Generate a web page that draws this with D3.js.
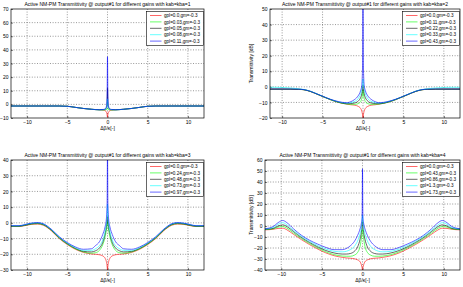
<!DOCTYPE html>
<html><head><meta charset="utf-8">
<script src="https://cdn.jsdelivr.net/npm/d3@7"></script>
<style>body{margin:0;background:#fff}svg{display:block}text{font-family:"Liberation Sans",Arial,sans-serif;fill:#000}</style>
</head><body><svg id="c" width="463" height="287"></svg>
<script>
// ---------- data ----------
const xTicks = [-10, -5, 0, 5, 10];
const yTicks1 = [-10, 0, 10, 20, 30, 40, 50, 60, 70];
const yTicks2 = [-20, -10, 0, 10, 20, 30, 40, 50];
const yTicks3 = [-30, -20, -10, 0, 10, 20, 30, 40];
const yTicks4 = [-40, -30, -20, -10, 0, 10, 20, 30, 40, 50, 60];
const kValues = [1, 2, 3, 4];
const gains1 = ["0.0", "0.03", "0.05", "0.08", "0.11"];
const gains2 = ["0.0", "0.11", "0.22", "0.33", "0.43"];
const gains3 = ["0.0", "0.24", "0.48", "0.73", "0.97"];
const gains4 = ["0.0", "0.43", "0.86", "1.3", "1.73"];
const gm = "-0.3";
const seriesColors = ["#ff0000", "#00ff00", "#000000", "#00ffff", "#0000ff"];

// panel 1 (kab=kba=1)
const X1 = [-12,-10,-8,-6,-5,-4,-3,-2,-1,-0.5,-0.25,-0.12,-0.05,0,0.05,0.12,0.25,0.5,1,2,3,4,5,6,8,10,12];
const red1   = [-1.2,-1.2,-1.2,-1.2,-1.4,-2.2,-3.0,-3.6,-4.0,-4.3,-4.8,-5.8,-7.5,-9.5,-7.5,-5.8,-4.8,-4.3,-4.0,-3.6,-3.0,-2.2,-1.4,-1.2,-1.2,-1.2,-1.2];
const green1 = [-1.2,-1.2,-1.2,-1.2,-1.4,-2.2,-3.0,-3.6,-4.0,-4.1,-4.0,-3.8,-3.5,-3.0,-3.5,-3.8,-4.0,-4.1,-4.0,-3.6,-3.0,-2.2,-1.4,-1.2,-1.2,-1.2,-1.2];
const black1 = [-1.2,-1.2,-1.2,-1.2,-1.4,-2.2,-3.0,-3.6,-4.0,-3.9,-3.6,-2.5,0,12,0,-2.5,-3.6,-3.9,-4.0,-3.6,-3.0,-2.2,-1.4,-1.2,-1.2,-1.2,-1.2];
const cyan1  = [-1.2,-1.2,-1.2,-1.2,-1.4,-2.2,-3.0,-3.6,-4.0,-3.9,-3.5,-2.5,-0.5,4,-0.5,-2.5,-3.5,-3.9,-4.0,-3.6,-3.0,-2.2,-1.4,-1.2,-1.2,-1.2,-1.2];
const blue1  = [-1.2,-1.2,-1.2,-1.2,-1.4,-2.2,-3.0,-3.6,-3.9,-3.7,-3.0,-1.0,6,35,6,-1.0,-3.0,-3.7,-3.9,-3.6,-3.0,-2.2,-1.4,-1.2,-1.2,-1.2,-1.2];

// panel 2 (kab=kba=2)
const X2 = [-12,-11,-10,-9,-8,-7.3,-6.5,-6,-5,-4,-3,-2,-1.5,-1,-0.6,-0.3,-0.15,-0.05,0,0.05,0.15,0.3,0.6,1,1.5,2,3,4,5,6,6.5,7.3,8,9,10,11,12];
const red2   = [-1.5,-1.5,-1.5,-1.5,-1.6,-1.9,-3.0,-4.0,-6.2,-8.3,-10.0,-11.1,-11.5,-11.8,-12.5,-13.8,-15.5,-18,-20,-18,-15.5,-13.8,-12.5,-11.8,-11.5,-11.1,-10.0,-8.3,-6.2,-4.0,-3.0,-1.9,-1.6,-1.5,-1.5,-1.5,-1.5];
const green2 = [-1.5,-1.5,-1.5,-1.5,-1.6,-1.9,-3.0,-4.0,-6.2,-8.3,-10.0,-11.0,-11.2,-11.2,-10.8,-9.5,-7.5,-4.5,-2,-4.5,-7.5,-9.5,-10.8,-11.2,-11.2,-11.0,-10.0,-8.3,-6.2,-4.0,-3.0,-1.9,-1.6,-1.5,-1.5,-1.5,-1.5];
const black2 = [-1.4,-1.4,-1.4,-1.4,-1.5,-1.8,-2.9,-3.9,-6.1,-8.2,-9.9,-10.8,-10.7,-10.3,-9.2,-7.0,-4.5,-1.0,1,-1.0,-4.5,-7.0,-9.2,-10.3,-10.7,-10.8,-9.9,-8.2,-6.1,-3.9,-2.9,-1.8,-1.5,-1.4,-1.4,-1.4,-1.4];
const cyan2  = [-0.3,-0.3,-0.4,-0.7,-1.2,-1.7,-2.8,-3.8,-6.0,-8.1,-9.7,-10.5,-10.2,-9.3,-7.6,-4.5,-1.5,2,5,2,-1.5,-4.5,-7.6,-9.3,-10.2,-10.5,-9.7,-8.1,-6.0,-3.8,-2.8,-1.7,-1.2,-0.7,-0.4,-0.3,-0.3];
const blue2  = [-1.4,-1.4,-1.4,-1.4,-1.5,-1.8,-2.9,-3.9,-6.0,-8.0,-9.5,-10.2,-9.5,-8.0,-5.8,-2.5,1,14,60,14,1,-2.5,-5.8,-8.0,-9.5,-10.2,-9.5,-8.0,-6.0,-3.9,-2.9,-1.8,-1.5,-1.4,-1.4,-1.4,-1.4];

// panel 3 (kab=kba=3)
const X3 = [-12,-11,-10.3,-9.5,-8.7,-8,-7,-6,-5,-4,-3,-2,-1.5,-1,-0.6,-0.3,-0.15,-0.05,0,0.05,0.15,0.3,0.6,1,1.5,2,3,4,5,6,7,8,8.7,9.5,10.3,11,12];
const red3   = [-2.3,-2.3,-1.8,-1.0,-0.8,-1.5,-5.0,-10.0,-13.8,-16.8,-18.8,-19.8,-20.0,-20.3,-21.0,-22.5,-24.5,-27.5,-30,-27.5,-24.5,-22.5,-21.0,-20.3,-20.0,-19.8,-18.8,-16.8,-13.8,-10.0,-5.0,-1.5,-0.8,-1.0,-1.8,-2.3,-2.3];
const green3 = [-2.2,-2.2,-1.6,-0.8,-0.5,-1.2,-4.7,-9.7,-13.5,-16.5,-18.5,-19.3,-19.0,-17.5,-14.0,-9.0,-5.0,-1.0,1,-1.0,-5.0,-9.0,-14.0,-17.5,-19.0,-19.3,-18.5,-16.5,-13.5,-9.7,-4.7,-1.2,-0.5,-0.8,-1.6,-2.2,-2.2];
const black3 = [-2.1,-2.1,-1.5,-0.6,-0.3,-1.0,-4.5,-9.4,-13.2,-16.2,-18.1,-18.5,-17.8,-16.0,-12.5,-7.0,-3.0,1.0,4,1.0,-3.0,-7.0,-12.5,-16.0,-17.8,-18.5,-18.1,-16.2,-13.2,-9.4,-4.5,-1.0,-0.3,-0.6,-1.5,-2.1,-2.1];
const cyan3  = [-1.9,-1.9,-1.2,-0.3,0,-0.7,-4.2,-9.1,-12.9,-15.8,-17.5,-17.5,-16.5,-14.5,-11.0,-5.5,-1.0,4.0,12,4.0,-1.0,-5.5,-11.0,-14.5,-16.5,-17.5,-17.5,-15.8,-12.9,-9.1,-4.2,-0.7,0,-0.3,-1.2,-1.9,-1.9];
const blue3  = [-1.8,-1.8,-1.1,-0.2,0.2,-0.5,-4.0,-8.8,-12.5,-15.3,-16.8,-16.5,-14.5,-12.0,-7.5,-2.5,2.0,12,45,12,2.0,-2.5,-7.5,-12.0,-14.5,-16.5,-16.8,-15.3,-12.5,-8.8,-4.0,-0.5,0.2,-0.2,-1.1,-1.8,-1.8];

// panel 4 (kab=kba=4)
const X4 = [-12,-11,-10.4,-9.8,-9.3,-8.5,-7.5,-6.5,-5.5,-4.5,-3.5,-2.5,-2,-1.5,-1,-0.6,-0.3,-0.15,-0.05,0,0.05,0.15,0.3,0.6,1,1.5,2,2.5,3.5,4.5,5.5,6.5,7.5,8.5,9.3,9.8,10.4,11,12];
const red4   = [-3.5,-3.0,-2.2,-2.0,-3.5,-7.5,-12.5,-17.0,-21.0,-24.5,-27.0,-28.5,-29.0,-29.3,-29.8,-30.8,-32.5,-35.0,-38.0,-40,-38.0,-35.0,-32.5,-30.8,-29.8,-29.3,-29.0,-28.5,-27.0,-24.5,-21.0,-17.0,-12.5,-7.5,-3.5,-2.0,-2.2,-3.0,-3.5];
const green4 = [-3.2,-2.6,-1.0,-0.5,-2.0,-6.3,-11.5,-16.0,-20.0,-23.5,-26.0,-27.3,-27.5,-27.5,-26.5,-24.0,-18.5,-12.0,-6.0,-3,-6.0,-12.0,-18.5,-24.0,-26.5,-27.5,-27.5,-27.3,-26.0,-23.5,-20.0,-16.0,-11.5,-6.3,-2.0,-0.5,-1.0,-2.6,-3.2];
const black4 = [-3.0,-2.2,0,1.0,-0.5,-5.0,-10.5,-15.0,-19.0,-22.3,-24.5,-25.5,-25.5,-25.0,-23.0,-19.0,-12.0,-6.0,0,4,0,-6.0,-12.0,-19.0,-23.0,-25.0,-25.5,-25.5,-24.5,-22.3,-19.0,-15.0,-10.5,-5.0,-0.5,1.0,0,-2.2,-3.0];
const cyan4  = [-2.8,-1.5,1.5,3.0,1.0,-4.0,-9.5,-14.0,-17.8,-21.0,-23.0,-23.5,-23.0,-21.5,-18.5,-13.5,-7.0,-2.0,4.0,10,4.0,-2.0,-7.0,-13.5,-18.5,-21.5,-23.0,-23.5,-23.0,-21.0,-17.8,-14.0,-9.5,-4.0,1.0,3.0,1.5,-1.5,-2.8];
const blue4  = [-2.5,-0.5,3.0,5.0,3.0,-2.5,-8.5,-13.0,-16.5,-19.5,-21.5,-21.5,-20.5,-18.0,-14.0,-8.5,-2.5,2.0,8.0,52,8.0,2.0,-2.5,-8.5,-14.0,-18.0,-20.5,-21.5,-21.5,-19.5,-16.5,-13.0,-8.5,-2.5,3.0,5.0,3.0,-0.5,-2.5];

// ---------- layout ----------
const panels = [
  {x: X1, ys: [red1, green1, black1, cyan1, blue1], gains: gains1, k: kValues[0], yTicks: yTicks1,
   box: [11, 204, 9, 118], xd: [-12, 12], ylabX: -1.2},
  {x: X2, ys: [red2, green2, black2, cyan2, blue2], gains: gains2, k: kValues[1], yTicks: yTicks2,
   box: [270, 460, 9, 118], xd: [-11.5, 12], ylabX: 253},
  {x: X3, ys: [red3, green3, black3, cyan3, blue3], gains: gains3, k: kValues[2], yTicks: yTicks3,
   box: [11, 204, 160, 270], xd: [-12, 12], ylabX: -1.2},
  {x: X4, ys: [red4, green4, black4, cyan4, blue4], gains: gains4, k: kValues[3], yTicks: yTicks4,
   box: [265, 460, 160, 270], xd: [-12, 12], ylabX: 253},
];

const svg = d3.select("#c");
const FS = 5;

panels.forEach((p, pi) => {
  const [x0, x1, y0, y1] = p.box;
  const yd = d3.extent(p.yTicks);
  const xs = d3.scaleLinear().domain(p.xd).range([x0, x1]);
  const ys = d3.scaleLinear().domain(yd).range([y1, y0]);
  const g = svg.append("g");

  g.append("rect").attr("x", x0).attr("y", y0).attr("width", x1 - x0).attr("height", y1 - y0)
    .attr("fill", "#fff");

  // grid
  const grid = g.append("g").attr("stroke", "#000").attr("stroke-width", 0.5)
    .attr("stroke-dasharray", "1,1.6").attr("opacity", 0.8);
  xTicks.forEach(t => grid.append("line").attr("x1", xs(t)).attr("x2", xs(t)).attr("y1", y0).attr("y2", y1));
  p.yTicks.slice(1, -1).forEach(t => grid.append("line").attr("x1", x0).attr("x2", x1).attr("y1", ys(t)).attr("y2", ys(t)));

  // axes (library axes, inward ticks)
  const ax = g.append("g").attr("transform", `translate(0,${y1})`)
    .call(d3.axisBottom(xs).tickValues(xTicks).tickSize(-2).tickPadding(2).tickFormat(d3.format("d")));
  const ay = g.append("g").attr("transform", `translate(${x0},0)`)
    .call(d3.axisLeft(ys).tickValues(p.yTicks).tickSize(-2).tickPadding(2.5).tickFormat(d3.format("d")));
  [ax, ay].forEach(a => {
    a.select(".domain").remove();
    a.selectAll("line").attr("stroke", "#000").attr("stroke-width", 0.5);
    a.selectAll("text").attr("font-size", FS).attr("font-family", '"Liberation Sans",Arial,sans-serif');
  });
  ax.selectAll("text").attr("dy", "0.71em");

  // curves
  const cid = "clip" + pi;
  svg.append("clipPath").attr("id", cid).append("rect")
    .attr("x", x0).attr("y", y0).attr("width", x1 - x0).attr("height", y1 - y0);
  const line = d3.line().x(d => xs(d[0])).y(d => ys(d[1])).curve(d3.curveMonotoneX);
  const cg = g.append("g").attr("clip-path", `url(#${cid})`);
  p.ys.forEach((arr, si) => {
    cg.append("path").datum(p.x.map((xv, i) => [xv, arr[i]]))
      .attr("d", line).attr("fill", "none").attr("stroke", seriesColors[si])
      .attr("stroke-width", 0.6).attr("stroke-linejoin", "round");
  });

  // box
  g.append("rect").attr("x", x0).attr("y", y0).attr("width", x1 - x0).attr("height", y1 - y0)
    .attr("fill", "none").attr("stroke", "#000").attr("stroke-width", 0.7);

  // title
  g.append("text").attr("x", (x0 + x1) / 2).attr("y", y0 - 3).attr("text-anchor", "middle")
    .attr("font-size", FS)
    .text(`Active NM-PM Transmittivity @ output#1 for different gains with kab=kba=${p.k}`);
  // x label
  g.append("text").attr("x", xs(0)).attr("y", y1 + 11.5).attr("text-anchor", "middle")
    .attr("font-size", FS).text("Δβ/κ[-]");
  // y label
  g.append("text").attr("transform", `translate(${p.ylabX},${(y0 + y1) / 2}) rotate(-90)`)
    .attr("text-anchor", "middle").attr("font-size", FS).text("Transmittivity [dB]");

  // legend
  const lw = 57, lh = 34;
  const lx = x1 - lw - 0.5, ly = y0 + 2.5;
  const lg = g.append("g");
  lg.append("rect").attr("x", lx).attr("y", ly).attr("width", lw).attr("height", lh)
    .attr("fill", "#fff").attr("stroke", "#000").attr("stroke-width", 0.6);
  p.gains.forEach((gv, i) => {
    const yy = ly + 4 + i * 6.4;
    lg.append("line").attr("x1", lx + 3.5).attr("x2", lx + 15).attr("y1", yy).attr("y2", yy)
      .attr("stroke", seriesColors[i]).attr("stroke-width", 0.6);
    lg.append("text").attr("x", lx + 17.5).attr("y", yy + 1.6).attr("font-size", 4.6)
      .text(`gpl=${gv},gm=${gm}`);
  });
});
</script>
</body></html>
